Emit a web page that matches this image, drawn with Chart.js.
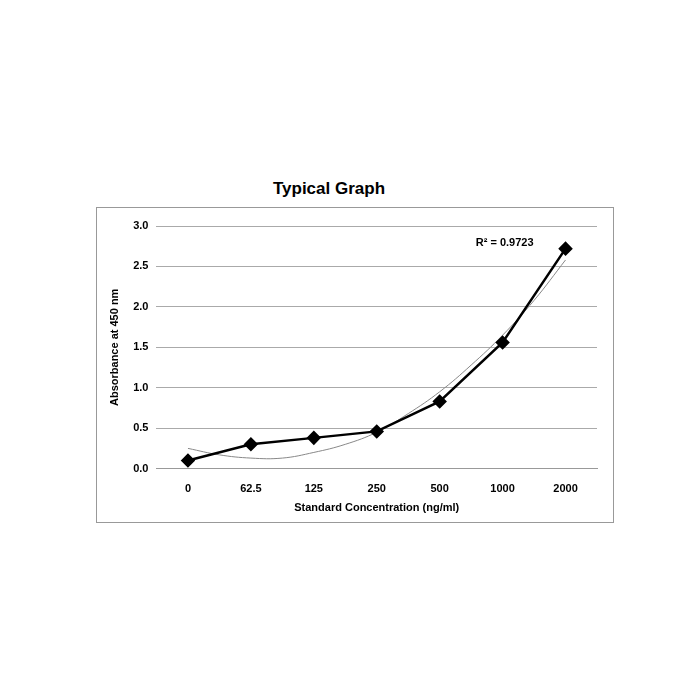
<!DOCTYPE html>
<html><head><script src="https://cdn.jsdelivr.net/npm/chart.js"></script>
<style>
body{margin:0;width:700px;height:700px;background:#fff;position:relative;font-family:"Liberation Sans",Arial,sans-serif}
#t{position:absolute;left:96px;width:466px;top:179px;text-align:center;font-weight:bold;font-size:17px;color:#000}
#b{position:absolute;left:96px;top:207px;width:516px;height:314px;border:1px solid #999}
</style></head><body>
<div id="t">Typical Graph</div>
<div id="b"><canvas id="c"></canvas></div>
<script>
const categories=["0","62.5","125","250","500","1000","2000"];
const absorbance=[0.10,0.30,0.38,0.46,0.83,1.56,2.72];
const trendX=[0,0.5,1,1.5,2,2.5,3,3.5,4,4.5,5,5.5,6];
const trendY=[0.25,0.17,0.13,0.13,0.20,0.30,0.45,0.68,0.95,1.28,1.65,2.08,2.58];
const yTicks=[0,0.5,1,1.5,2,2.5,3];
const r2Label="R² = 0.9723";
Chart.defaults.font.family='"Liberation Sans",Arial,sans-serif';
Chart.defaults.color='#000';
new Chart(document.getElementById('c'),{
type:'scatter',
data:{datasets:[
{data:trendX.map((x,i)=>({x,y:trendY[i]})),showLine:true,borderColor:'#888',borderWidth:1,pointRadius:0,tension:0.4,order:2},
{data:absorbance.map((y,i)=>({x:i,y})),showLine:true,borderColor:'#000',backgroundColor:'#000',borderWidth:2.5,pointStyle:'rectRot',pointRadius:5.5,order:1}
]},
options:{responsive:true,maintainAspectRatio:false,animation:false,
layout:{padding:{left:7,right:16,top:18,bottom:3}},
plugins:{legend:{display:false},tooltip:{enabled:false}},
scales:{
x:{type:'linear',min:-0.5,max:6.5,afterBuildTicks:s=>{s.ticks=categories.map((c,i)=>({value:i}));},
ticks:{callback:v=>categories[v],font:{size:11,weight:'bold'},padding:6},
grid:{display:false},border:{color:'#999'},
title:{display:true,text:'Standard Concentration (ng/ml)',font:{size:11,weight:'bold'},padding:{top:0}}},
y:{min:0,max:3,afterBuildTicks:s=>{s.ticks=yTicks.map(v=>({value:v}));},
ticks:{callback:v=>v.toFixed(1),font:{size:11,weight:'bold'},padding:8},
grid:{color:'#aaa',drawTicks:false},border:{display:false},
title:{display:true,text:'Absorbance at 450 nm',font:{size:11,weight:'bold'}}}
}},
plugins:[{id:'r2',afterDraw(ch){const c=ch.ctx;const x=ch.scales.x.getPixelForValue(5.05),y=ch.scales.y.getPixelForValue(2.75);c.save();c.font='bold 11px "Liberation Sans",Arial';c.fillStyle='#000';c.fillText(r2Label,x-30,y);c.restore();}}]
});
</script></body></html>
